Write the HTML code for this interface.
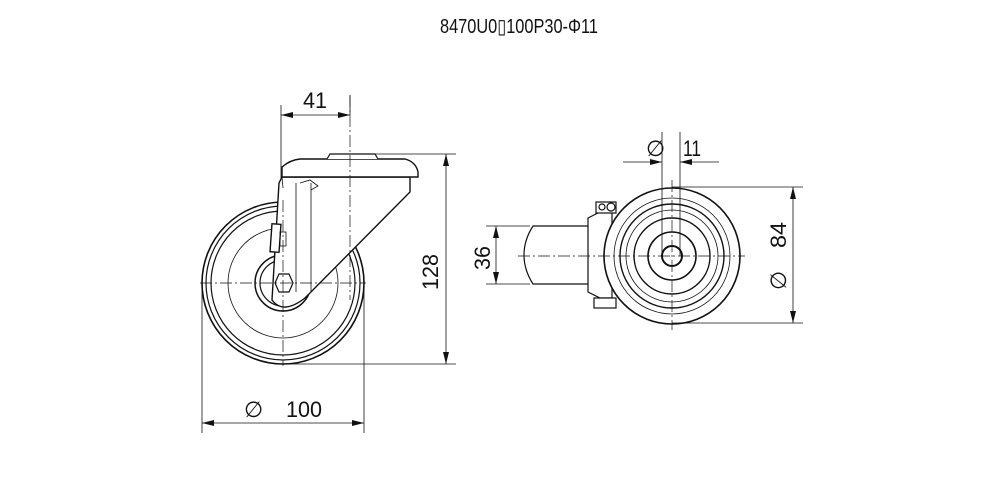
<!DOCTYPE html>
<html><head><meta charset="utf-8"><style>
html,body{margin:0;padding:0;background:#fff;width:1000px;height:488px;overflow:hidden}
svg{display:block}
text{font-family:"Liberation Sans Narrow","Liberation Sans",sans-serif;fill:#111}
</style></head><body>
<svg width="1000" height="488" viewBox="0 0 1000 488" xmlns="http://www.w3.org/2000/svg">
<defs>
<marker id="a" viewBox="0 0 12 6" refX="12" refY="3" markerWidth="12" markerHeight="6" orient="auto-start-reverse" markerUnits="userSpaceOnUse"><path d="M0,0 L12,3 L0,6 z" fill="#111"/></marker>
</defs>
<text x="440" y="33" font-size="20" textLength="158" lengthAdjust="spacingAndGlyphs">8470U0▯100P30-Φ11</text>
<g fill="none" stroke="#111" stroke-width="1.2">
<circle cx="283" cy="283" r="81" stroke-width="1.6"/>
<circle cx="283" cy="283" r="77"/>
<circle cx="283" cy="283" r="72"/>
<circle cx="283" cy="283" r="55" stroke-width="0.8"/>
<circle cx="283" cy="283" r="28" stroke-width="1.5"/>
<circle cx="283" cy="283" r="23"/>
<path d="M279,183 L272,300 Q283,315 305,298 L410,192 L410,177 L282,177 Z" fill="#fff" stroke-width="1.4"/>
<path d="M282,177 L282,167 Q290,160 300,159 L405,159 Q416,162 418,172 L418,177 Z" fill="#fff" stroke-width="1.4"/>
<path d="M327,159 L330,154 L375,154 L378,159" fill="#fff"/>
<path d="M296,183 L296,292 M311,183 L311,291" stroke-width="0.8"/>
<path d="M282,177 L283,188 M300,183 L310,180 L318,186 L311,190" stroke-width="0.8"/>
<rect x="271" y="224" width="9" height="28" fill="#fff" stroke-width="1.4" transform="rotate(4 275 238)"/>
<rect x="280" y="232" width="6" height="14" stroke-width="0.8"/>
<polygon points="275,283 279,274 289,274 293,283 289,292 279,292" fill="#fff"/>
<g stroke-width="0.7" stroke-dasharray="12,3,2,3">
<line x1="200" y1="283" x2="366" y2="283"/>
<line x1="283" y1="200" x2="283" y2="366"/>
<line x1="350" y1="95" x2="350" y2="300"/>
</g>
<g stroke-width="0.8">
<line x1="281" y1="105" x2="281" y2="178"/>
<line x1="350" y1="95" x2="350" y2="115"/>
<line x1="281" y1="115" x2="350" y2="115" marker-start="url(#a)" marker-end="url(#a)"/>
<line x1="375" y1="154" x2="456" y2="154"/>
<line x1="283" y1="364" x2="456" y2="364"/>
<line x1="446" y1="154" x2="446" y2="364" marker-start="url(#a)" marker-end="url(#a)"/>
<line x1="202" y1="283" x2="202" y2="433"/>
<line x1="364" y1="283" x2="364" y2="433"/>
<line x1="202" y1="423" x2="364" y2="423" marker-start="url(#a)" marker-end="url(#a)"/>
</g>
<path d="M533,226 L600,226 L600,284 L533,284 Q524,270 524,255 Q524,240 533,226 Z" fill="#fff"/>
<path d="M588,218 L600,212 L612,212 L612,298 L600,298 L588,292 Z" fill="#fff"/>
<rect x="596" y="202" width="20" height="11" fill="#fff"/>
<circle cx="602" cy="207" r="3"/><circle cx="611" cy="207" r="4"/>
<rect x="594" y="298" width="22" height="10" fill="#fff"/>
<circle cx="672" cy="256" r="68" fill="#fff" stroke-width="1.6"/>
<circle cx="672" cy="256" r="58" stroke-width="0.8"/>
<circle cx="672" cy="256" r="52" stroke-width="1.4"/>
<circle cx="672" cy="256" r="46" stroke-width="0.8"/>
<circle cx="672" cy="256" r="38" stroke-width="1.4"/>
<circle cx="672" cy="256" r="24" stroke-width="1.6"/>
<circle cx="672" cy="256" r="10" stroke-width="2"/>
<g stroke-width="0.7" stroke-dasharray="12,3,2,3">
<line x1="518" y1="256" x2="745" y2="256"/>
<line x1="672" y1="180" x2="672" y2="330"/>
</g>
<g stroke-width="0.8">
<line x1="662" y1="132" x2="662" y2="256"/>
<line x1="680" y1="132" x2="680" y2="256"/>
<line x1="623" y1="162" x2="662" y2="162" marker-end="url(#a)"/>
<line x1="719" y1="162" x2="680" y2="162" marker-end="url(#a)"/>
<line x1="672" y1="187" x2="803" y2="187"/>
<line x1="672" y1="323" x2="803" y2="323"/>
<line x1="793" y1="187" x2="793" y2="323" marker-start="url(#a)" marker-end="url(#a)"/>
<line x1="486" y1="226" x2="530" y2="226"/>
<line x1="486" y1="284" x2="530" y2="284"/>
<line x1="496" y1="226" x2="496" y2="284" marker-start="url(#a)" marker-end="url(#a)"/>
</g>
</g>
<g font-size="22">
<text x="303" y="108" textLength="24" lengthAdjust="spacingAndGlyphs">41</text>
<text transform="translate(438,290) rotate(-90)" textLength="36" lengthAdjust="spacingAndGlyphs">128</text>
<text x="244" y="417">∅</text>
<text x="286" y="417" textLength="36" lengthAdjust="spacingAndGlyphs">100</text>
<text x="646" y="156">∅</text>
<text x="683" y="156" textLength="18" lengthAdjust="spacingAndGlyphs">11</text>
<text transform="translate(490,270) rotate(-90)" textLength="24" lengthAdjust="spacingAndGlyphs">36</text>
<text transform="translate(786,248) rotate(-90)" textLength="26" lengthAdjust="spacingAndGlyphs">84</text>
<text transform="translate(786,290) rotate(-90)">∅</text>
</g>
</svg>
</body></html>
